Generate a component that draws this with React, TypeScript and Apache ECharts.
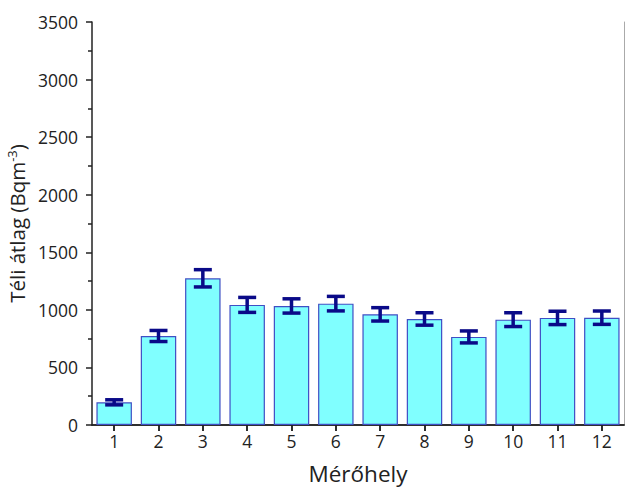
import React, { useEffect, useRef } from "react";
import * as echarts from "echarts";

const categories = ["1", "2", "3", "4", "5", "6", "7", "8", "9", "10", "11", "12"];
const means = [197, 773, 1274, 1043, 1034, 1054, 961, 921, 765, 915, 930, 932];
const errors = [22, 48, 75, 65, 62, 63, 58, 54, 52, 60, 58, 58];
const yMin = 0;
const yMax = 3500;
const yInterval = 500;

const FONT = "Open Sans";

export default function App() {
  const ref = useRef<HTMLDivElement>(null);
  useEffect(() => {
    if (!ref.current) return;
    const chart = echarts.init(ref.current, undefined, { renderer: "svg" });
    const errData = means.map((m, i) => [i, m - errors[i], m + errors[i]]);
    chart.setOption({
      animation: false,
      backgroundColor: "#ffffff",
      textStyle: { fontFamily: FONT },
      grid: { left: 92, right: 1, top: 22, bottom: 63, containLabel: false, outerBoundsMode: "none" },
      xAxis: [
        {
          type: "category",
          data: categories,
          position: "bottom",
          name: "Mérőhely",
          nameLocation: "middle",
          nameGap: 35,
          nameTextStyle: { fontFamily: FONT, fontSize: 22.5, color: "#222", lineHeight: 26 },
          axisLine: { show: true, lineStyle: { color: "#222", width: 1.5 } },
          axisTick: { show: true, alignWithLabel: true, inside: false, length: 6, lineStyle: { color: "#222", width: 1.5 } },
          axisLabel: { fontFamily: FONT, fontSize: 17.5, color: "#222", margin: 7 },
        },
        {
          type: "category",
          data: categories,
          position: "top",
          axisLine: { show: true, lineStyle: { color: "#222", width: 1.5 } },
          axisTick: { show: true, alignWithLabel: true, inside: true, length: 6, lineStyle: { color: "#222", width: 1.5 } },
          axisLabel: { show: false },
        },
      ],
      yAxis: [
        {
          type: "value",
          min: yMin,
          max: yMax,
          interval: yInterval,
          position: "left",
          name: "{a|Téli átlag (Bqm}{s|-3}{a|)}",
          nameLocation: "middle",
          nameGap: 58,
          nameRotate: 90,
          nameTextStyle: {
            rich: {
              a: { fontFamily: FONT, fontSize: 20.5, color: "#222" },
              s: { fontFamily: FONT, fontSize: 13, color: "#222", verticalAlign: "top", padding: [0, 0, 9, 0] },
            },
          },
          axisLine: { show: true, lineStyle: { color: "#222", width: 1.5 } },
          axisTick: { show: true, inside: false, length: 6, lineStyle: { color: "#222", width: 1.5 } },
          minorTick: { show: true, splitNumber: 2, length: 4, lineStyle: { color: "#222", width: 1.5 } },
          splitLine: { show: false },
          axisLabel: { fontFamily: FONT, fontSize: 17.5, color: "#222", margin: 14, formatter: (v: number) => String(v) },
        },
        {
          type: "value",
          min: yMin,
          max: yMax,
          interval: yInterval,
          position: "right",
          axisLine: { show: true, lineStyle: { color: "#aaa", width: 1 } },
          axisTick: { show: false },
          axisLabel: { show: false },
          splitLine: { show: false },
        },
      ],
      series: [
        {
          type: "bar",
          data: means,
          xAxisIndex: 0,
          yAxisIndex: 0,
          barCategoryGap: "20%",
          itemStyle: { color: "#80FFFF", borderColor: "#3F4FC4", borderWidth: 1.2 },
          z: 2,
        },
        {
          type: "custom",
          xAxisIndex: 0,
          yAxisIndex: 0,
          data: errData,
          encode: { x: 0, y: [1, 2] },
          z: 5,
          renderItem: (params: any, api: any) => {
            const idx = api.value(0);
            const lo = api.coord([idx, api.value(1)]);
            const hi = api.coord([idx, api.value(2)]);
            const hw = 9;
            const style = { stroke: "#0A0A88", lineWidth: 3.5 };
            return {
              type: "group",
              children: [
                { type: "line", shape: { x1: lo[0], y1: lo[1], x2: hi[0], y2: hi[1] }, style },
                { type: "line", shape: { x1: hi[0] - hw, y1: hi[1], x2: hi[0] + hw, y2: hi[1] }, style },
                { type: "line", shape: { x1: lo[0] - hw, y1: lo[1], x2: lo[0] + hw, y2: lo[1] }, style },
              ],
            };
          },
        },
      ],
    });
    return () => chart.dispose();
  }, []);
  return <div ref={ref} style={{ width: 625, height: 488, position: "absolute", left: 0, top: 0 }} />;
}
